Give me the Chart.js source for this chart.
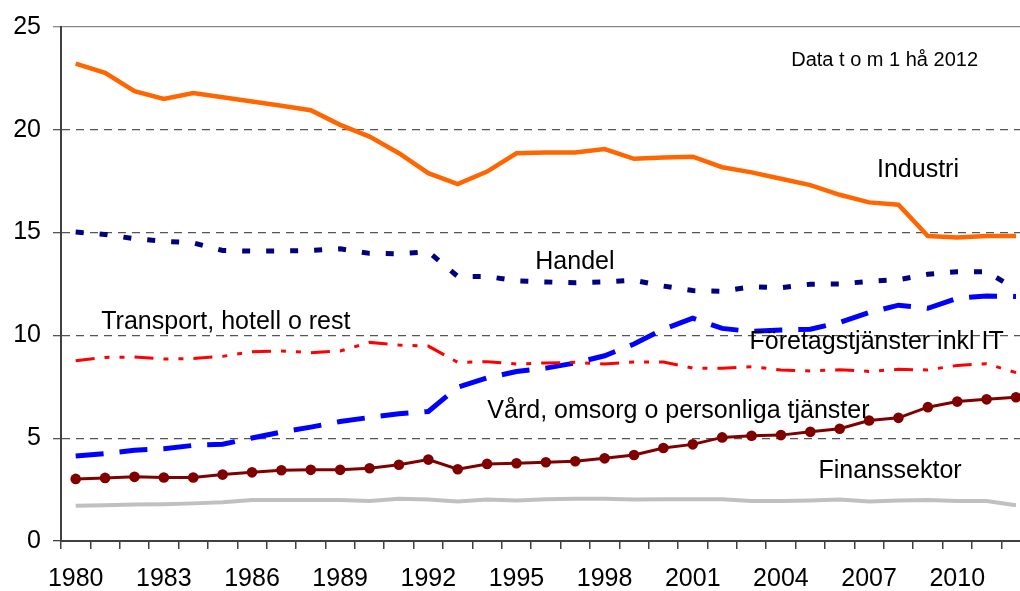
<!DOCTYPE html>
<html>
<head>
<meta charset="utf-8">
<script src="https://cdn.jsdelivr.net/npm/chart.js@4/dist/chart.umd.min.js"></script>
<style>
  html, body { margin: 0; padding: 0; background: #ffffff; overflow: hidden; }
  #ram { position: relative; width: 1020px; height: 591px; overflow: hidden; }
  #grafik { position: absolute; left: 0; top: 0; }
</style>
</head>
<body>
<div id="ram"><canvas id="grafik" width="1036" height="591"></canvas></div>
<script>
// År 1980-2012
const ar = [];
for (let a = 1980; a <= 2012; a++) ar.push(String(a));

const industri = [23.22, 22.77, 21.88, 21.50, 21.79, 21.58, 21.38, 21.17, 20.95, 20.24, 19.67,
  18.86, 17.89, 17.36, 17.97, 18.86, 18.90, 18.90, 19.06, 18.59, 18.65, 18.69, 18.18, 17.93,
  17.62, 17.31, 16.84, 16.47, 16.36, 14.83, 14.76, 14.83, 14.84];
const handel = [15.03, 14.91, 14.70, 14.58, 14.50, 14.13, 14.10, 14.11, 14.13, 14.21, 13.99,
  13.97, 14.07, 12.87, 12.87, 12.65, 12.60, 12.56, 12.60, 12.68, 12.40, 12.18, 12.15, 12.37,
  12.32, 12.49, 12.50, 12.63, 12.71, 12.97, 13.10, 13.10, 12.25];
const transport = [8.77, 8.93, 8.95, 8.85, 8.88, 8.98, 9.21, 9.24, 9.16, 9.24, 9.66, 9.53,
  9.48, 8.69, 8.72, 8.61, 8.66, 8.69, 8.61, 8.71, 8.71, 8.41, 8.40, 8.48, 8.32, 8.27, 8.33,
  8.25, 8.35, 8.32, 8.54, 8.62, 8.19];
const foretag = [4.13, 4.25, 4.41, 4.49, 4.65, 4.71, 5.01, 5.30, 5.54, 5.81, 6.01, 6.19,
  6.30, 7.48, 7.93, 8.24, 8.41, 8.66, 9.01, 9.58, 10.30, 10.84, 10.34, 10.19, 10.26, 10.30,
  10.63, 11.11, 11.47, 11.32, 11.81, 11.92, 11.89];
const vard = [3.02, 3.07, 3.12, 3.09, 3.09, 3.23, 3.34, 3.44, 3.46, 3.46, 3.54, 3.71, 3.96,
  3.49, 3.75, 3.78, 3.83, 3.88, 4.02, 4.18, 4.52, 4.70, 5.04, 5.12, 5.15, 5.31, 5.46, 5.86,
  5.99, 6.51, 6.78, 6.89, 6.99];
const finans = [1.71, 1.74, 1.78, 1.79, 1.83, 1.89, 1.99, 2.00, 1.99, 2.00, 1.95, 2.05, 2.02,
  1.92, 2.02, 1.97, 2.03, 2.05, 2.05, 2.02, 2.03, 2.03, 2.03, 1.94, 1.94, 1.97, 2.02, 1.92,
  1.97, 1.99, 1.95, 1.94, 1.74];

// Texter i diagrammet
const texter = ['Industri', 'Handel', 'Transport, hotell o rest', 'Företagstjänster inkl IT',
  'Vård, omsorg o personliga tjänster', 'Finanssektor', 'Data t o m 1 hå 2012'];
// placering: index på x-axeln (decimalt) och värde för baslinjen
const texterX = [27.27, 15.64, 0.87, 22.93, 14.01, 25.28, 24.35];
const texterY = [17.70, 13.23, 10.32, 9.35, 5.96, 3.05, 23.10];
const texterStorlek = [25, 25, 25, 25, 25, 25, 20];

const typsnitt = "'Liberation Sans', Arial, sans-serif";

const textPlugin = {
  id: 'texter',
  afterDatasetsDraw(chart) {
    const ctx = chart.ctx;
    const xs = chart.scales.x;
    const ys = chart.scales.y;
    ctx.save();
    ctx.fillStyle = '#000000';
    ctx.textAlign = 'left';
    ctx.textBaseline = 'alphabetic';
    for (let i = 0; i < texter.length; i++) {
      ctx.font = texterStorlek[i] + 'px ' + typsnitt;
      ctx.fillText(texter[i], xs.getPixelForValue(texterX[i]), ys.getPixelForValue(texterY[i]));
    }
    ctx.restore();
  }
};

function linje(data, farg, bredd, streck) {
  return {
    data: data,
    borderColor: farg,
    backgroundColor: farg,
    borderWidth: bredd,
    borderDash: streck,
    pointRadius: 0,
    tension: 0,
    fill: false
  };
}

const vardSerie = linje(vard, '#800000', 3, []);
vardSerie.pointRadius = 5.3;
vardSerie.pointBackgroundColor = '#800000';
vardSerie.pointBorderWidth = 0;

new Chart(document.getElementById('grafik'), {
  type: 'line',
  data: {
    labels: ar,
    datasets: [
      linje(finans, '#c0c0c0', 4, []),
      vardSerie,
      linje(transport, '#ff0000', 3, [19, 10, 5, 10, 5, 10]),
      linje(foretag, '#0000ff', 5, [28, 16]),
      linje(handel, '#000080', 5, [8, 16]),
      linje(industri, '#ff6600', 4.5, [])
    ]
  },
  options: {
    responsive: false,
    animation: false,
    devicePixelRatio: 1,
    layout: { padding: { top: 25, right: 0, bottom: 0, left: 0 } },
    plugins: {
      legend: { display: false },
      tooltip: { enabled: false }
    },
    scales: {
      x: {
        offset: true,
        grid: {
          offset: true,
          drawOnChartArea: false,
          drawTicks: true,
          tickLength: 8,
          color: '#404040',
          lineWidth: 1.5
        },
        border: { display: true, color: '#404040', width: 2 },
        ticks: {
          autoSkip: false,
          maxRotation: 0,
          padding: 15,
          color: '#000000',
          font: { family: typsnitt, size: 25 },
          callback: function (v, i) {
            return (i % 3 === 0) ? ar[i] : '';
          }
        },
        afterFit: function (s) { s.height = 50; }
      },
      y: {
        min: 0,
        max: 25,
        grid: {
          drawTicks: true,
          tickLength: 8,
          color: function (c) {
            if (c.tick.value === 25) return '#888888';
            if (c.tick.value === 0) return '#404040';
            return '#555555';
          },
          lineWidth: 1.3
        },
        border: {
          display: true,
          color: '#404040',
          width: 2,
          dash: function (c) {
            const v = c.tick ? c.tick.value : 0;
            return (v === 0 || v === 25) ? [] : [8, 6];
          }
        },
        ticks: {
          stepSize: 5,
          padding: 12,
          color: '#000000',
          font: { family: typsnitt, size: 25 }
        },
        afterFit: function (s) { s.width = 61; }
      }
    }
  },
  plugins: [textPlugin]
});
</script>
</body>
</html>
